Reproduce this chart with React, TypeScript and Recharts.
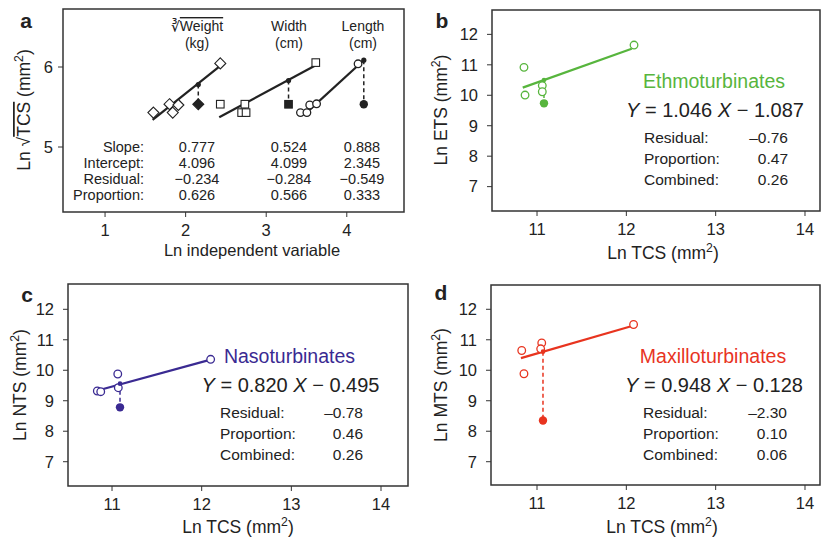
import React from "react";
import { ScatterChart, Scatter, XAxis, YAxis, ReferenceArea } from "recharts";

const FONT = "'Liberation Sans', Arial, Helvetica, sans-serif";
const INK = "#222";
const BOX = "#333";
const GREEN = "#57b53d";
const PURPLE = "#3a2a92";
const RED = "#e8341f";

// panel a: ln independent variable vs ln sqrt(TCS)
const weightX = [1.6, 1.8, 1.84, 1.91, 2.43];
const weightY = [5.43, 5.535, 5.43, 5.525, 6.045];
const widthX = [2.43, 2.735, 2.695, 2.75, 3.615];
const widthY = [5.535, 5.535, 5.43, 5.43, 6.055];
const lengthX = [3.425, 3.505, 3.54, 3.625, 4.14];
const lengthY = [5.43, 5.43, 5.525, 5.54, 6.04];
const weightFitX = [1.59, 2.46];
const weightFitY = [5.34, 6.04];
const widthFitX = [2.417, 3.603];
const widthFitY = [5.371, 6.016];
const lengthFitX = [3.49, 4.21];
const lengthFitY = [5.42, 6.085];
// the odd species: observed (filled) and predicted (on the line)
const oddAX = [2.157, 3.277, 4.211];
const oddAY = [5.534, 5.534, 5.534];
const predAY = [5.78, 5.83, 6.085];

const statNames = ["Slope:", "Intercept:", "Residual:", "Proportion:"];
const weightStats = ["0.777", "4.096", "\u22120.234", "0.626"];
const widthStats = ["0.524", "4.099", "\u22120.284", "0.566"];
const lengthStats = ["0.888", "2.345", "\u22120.549", "0.333"];

// panels b-d: ln TCS vs ln turbinate surface
const etsX = [10.854, 10.866, 11.059, 11.059, 12.086];
const etsY = [10.917, 10.008, 10.32, 10.116, 11.649];
const etsFitX = [10.84, 12.06];
const etsFitY = [10.25, 11.53];
const etsOdd = { x: 11.078, y: 9.735, fit: 10.5 };

const ntsX = [10.836, 10.874, 11.064, 11.07, 12.1];
const ntsY = [9.319, 9.296, 9.877, 9.427, 10.359];
const ntsFitX = [10.82, 12.09];
const ntsFitY = [9.32, 10.34];
const ntsOdd = { x: 11.089, y: 8.784, fit: 9.56 };

const mtsX = [10.829, 10.854, 11.053, 11.041, 12.081];
const mtsY = [10.648, 9.886, 10.894, 10.704, 11.501];
const mtsFitX = [10.82, 12.064];
const mtsFitY = [10.4, 11.45];
const mtsOdd = { x: 11.067, y: 8.35, fit: 10.61 };

const statLabels = ["Residual:", "Proportion:", "Combined:"];
const etsStats = ["\u20130.76", "0.47", "0.26"];
const ntsStats = ["\u20130.78", "0.46", "0.26"];
const mtsStats = ["\u20132.30", "0.10", "0.06"];

const aXTicks = [1, 2, 3, 4];
const aYTicks = [5, 6];
const tcsTicks = [11, 12, 13, 14];
const turbTicks = [7, 8, 9, 10, 11, 12];

const zip = (xs: number[], ys: number[]) => xs.map((x, i) => ({ x, y: ys[i] }));

const none = () => <g />;
const openCircle = (c: string, r = 3.8) => (p: any) => (
  <circle cx={p.cx} cy={p.cy} r={r} fill="#fff" stroke={c} strokeWidth={1.3} />
);
const dot = (c: string, r = 4.2) => (p: any) => <circle cx={p.cx} cy={p.cy} r={r} fill={c} />;
const diamond = (fill: string) => (p: any) => (
  <polygon
    points={`${p.cx},${p.cy - 5.5} ${p.cx + 5.5},${p.cy} ${p.cx},${p.cy + 5.5} ${p.cx - 5.5},${p.cy}`}
    fill={fill}
    stroke={INK}
    strokeWidth={1.1}
  />
);
const square = (fill: string) => (p: any) => (
  <rect x={p.cx - 3.8} y={p.cy - 3.8} width={7.6} height={7.6} fill={fill} stroke={INK} strokeWidth={1.1} />
);

const tickStyle = { fill: INK, fontSize: 16.5, fontFamily: FONT };

const Panel = ({ left, top, width, height, margin, xDomain, yDomain, xTicks, yTicks, yGap, children }: any) => (
  <div style={{ position: "absolute", left, top }}>
    <ScatterChart width={width} height={height} margin={margin}>
      <XAxis
        type="number"
        dataKey="x"
        domain={xDomain}
        ticks={xTicks}
        allowDataOverflow
        axisLine={false}
        tickLine={{ stroke: BOX }}
        tickSize={5}
        tickMargin={7}
        height={30}
        tick={tickStyle}
      />
      <YAxis
        type="number"
        dataKey="y"
        domain={yDomain}
        ticks={yTicks}
        allowDataOverflow
        axisLine={false}
        tickLine={{ stroke: BOX }}
        tickSize={5}
        tickMargin={yGap}
        width={40}
        tick={tickStyle}
      />
      <ReferenceArea
        x1={xDomain[0]}
        x2={xDomain[1]}
        y1={yDomain[0]}
        y2={yDomain[1]}
        fill="none"
        stroke={BOX}
        strokeWidth={1.5}
        ifOverflow="visible"
      />
      {children}
    </ScatterChart>
  </div>
);

const TurbSeries = (xs: number[], ys: number[], fx: number[], fy: number[], odd: any, c: string) => [
  <Scatter
    key="res"
    data={[{ x: odd.x, y: odd.fit }, { x: odd.x, y: odd.y }]}
    line={{ stroke: c, strokeWidth: 1.5, strokeDasharray: "4 3" }}
    shape={none}
    isAnimationActive={false}
  />,
  <Scatter key="fit" data={zip(fx, fy)} line={{ stroke: c, strokeWidth: 2.2 }} shape={none} isAnimationActive={false} />,
  <Scatter key="pts" data={zip(xs, ys)} shape={openCircle(c)} isAnimationActive={false} />,
  <Scatter key="pred" data={[{ x: odd.x, y: odd.fit }]} shape={dot(c, 2.3)} isAnimationActive={false} />,
  <Scatter key="odd" data={[{ x: odd.x, y: odd.y }]} shape={dot(c)} isAnimationActive={false} />,
];

const Mm2 = ({ size }: { size: number }) => (
  <>
    (mm<tspan dy={-size * 0.42} fontSize={size * 0.7}>2</tspan>
    <tspan dy={size * 0.42}>)</tspan>
  </>
);

const StatsBlock = ({ x, right, y, color, name, eq, values }: any) => (
  <g fill={INK} fontFamily={FONT}>
    <text x={(x + right) / 2 - 2} y={y} fill={color} fontSize={19.5} textAnchor="middle">
      {name}
    </text>
    <text x={(x + right) / 2 - 1} y={y + 29} fontSize={20} textAnchor="middle">
      <tspan fontStyle="italic">Y</tspan> = {eq[0]} <tspan fontStyle="italic">X</tspan> {"\u2212  "}
      {eq[1]}
    </text>
    {statLabels.map((s, i) => (
      <text key={s} x={x} y={y + 55 + i * 21} fontSize={15.5}>
        {s}
      </text>
    ))}
    {values.map((v: string, i: number) => (
      <text key={i} x={right} y={y + 55 + i * 21} fontSize={15.5} textAnchor="end">
        {v}
      </text>
    ))}
  </g>
);

const App = () => {
  return (
    <div style={{ position: "absolute", left: 0, top: 0, width: 821, height: 538, background: "#fff" }}>
      <Panel
        left={0}
        top={0}
        width={420}
        height={270}
        margin={{ top: 9, right: 16, bottom: 28, left: 23 }}
        xDomain={[0.478, 4.71]}
        yDomain={[4.1875, 6.725]}
        xTicks={aXTicks}
        yTicks={aYTicks}
        yGap={5}
      >
        {zip(oddAX, predAY).map((p, i) => (
          <Scatter
            key={"r" + i}
            data={[p, { x: oddAX[i], y: oddAY[i] }]}
            line={{ stroke: INK, strokeWidth: 1.5, strokeDasharray: "4 3" }}
            shape={none}
            isAnimationActive={false}
          />
        ))}
        <Scatter data={zip(weightFitX, weightFitY)} line={{ stroke: INK, strokeWidth: 2.2 }} shape={none} isAnimationActive={false} />
        <Scatter data={zip(widthFitX, widthFitY)} line={{ stroke: INK, strokeWidth: 2.2 }} shape={none} isAnimationActive={false} />
        <Scatter data={zip(lengthFitX, lengthFitY)} line={{ stroke: INK, strokeWidth: 2.2 }} shape={none} isAnimationActive={false} />
        <Scatter data={zip(weightX, weightY)} shape={diamond("#fff")} isAnimationActive={false} />
        <Scatter data={zip(widthX, widthY)} shape={square("#fff")} isAnimationActive={false} />
        <Scatter data={zip(lengthX, lengthY)} shape={openCircle(INK)} isAnimationActive={false} />
        <Scatter data={zip(oddAX, predAY)} shape={dot(INK, 2.6)} isAnimationActive={false} />
        <Scatter data={[{ x: oddAX[0], y: oddAY[0] }]} shape={diamond(INK)} isAnimationActive={false} />
        <Scatter data={[{ x: oddAX[1], y: oddAY[1] }]} shape={square(INK)} isAnimationActive={false} />
        <Scatter data={[{ x: oddAX[2], y: oddAY[2] }]} shape={dot(INK)} isAnimationActive={false} />
      </Panel>

      <Panel
        left={420}
        top={0}
        width={401}
        height={270}
        margin={{ top: 10, right: 1, bottom: 29, left: 32 }}
        xDomain={[10.496, 14.168]}
        yDomain={[6.2, 12.8]}
        xTicks={tcsTicks}
        yTicks={turbTicks}
        yGap={9}
      >
        {TurbSeries(etsX, etsY, etsFitX, etsFitY, etsOdd, GREEN)}
      </Panel>

      <Panel
        left={0}
        top={270}
        width={420}
        height={268}
        margin={{ top: 14, right: 12, bottom: 22, left: 28 }}
        xDomain={[10.509, 14.301]}
        yDomain={[6.203, 12.83]}
        xTicks={tcsTicks}
        yTicks={turbTicks}
        yGap={9}
      >
        {TurbSeries(ntsX, ntsY, ntsFitX, ntsFitY, ntsOdd, PURPLE)}
      </Panel>

      <Panel
        left={420}
        top={270}
        width={401}
        height={268}
        margin={{ top: 15, right: 1, bottom: 23, left: 31 }}
        xDomain={[10.485, 14.168]}
        yDomain={[6.236, 12.797]}
        xTicks={tcsTicks}
        yTicks={turbTicks}
        yGap={9}
      >
        {TurbSeries(mtsX, mtsY, mtsFitX, mtsFitY, mtsOdd, RED)}
      </Panel>

      <svg
        width={821}
        height={538}
        style={{ position: "absolute", left: 0, top: 0, pointerEvents: "none" }}
        fontFamily={FONT}
        fill={INK}
      >
        {/* panel letters */}
        <g fontSize={21} fontWeight="bold" textAnchor="middle">
          <text x={26} y={28}>a</text>
          <text x={442} y={28}>b</text>
          <text x={27} y={302}>c</text>
          <text x={441} y={300}>d</text>
        </g>

        {/* panel a headers and table */}
        <g fontSize={14} textAnchor="middle">
          <text x={197} y={31}>
            {"\u221B"}
            <tspan textDecoration="overline">Weight</tspan>
          </text>
          <text x={197} y={47.5}>(kg)</text>
          <text x={289} y={31}>Width</text>
          <text x={289} y={47.5}>(cm)</text>
          <text x={363} y={31}>Length</text>
          <text x={363} y={47.5}>(cm)</text>
        </g>
        <g fontSize={14.5}>
          {statNames.map((s, i) => (
            <text key={s} x={144} y={152 + i * 16} textAnchor="end">
              {s}
            </text>
          ))}
          {[weightStats, widthStats, lengthStats].map((col, j) =>
            col.map((v, i) => (
              <text key={j + "-" + i} x={[197, 289, 362][j]} y={152 + i * 16} textAnchor="middle">
                {v}
              </text>
            ))
          )}
        </g>
        <text x={252} y={256} fontSize={16.5} textAnchor="middle">
          Ln independent variable
        </text>
        <text transform="translate(30,110) rotate(-90)" fontSize={17.5} textAnchor="middle">
          Ln {"\u221A"}
          <tspan textDecoration="overline">TCS</tspan> <Mm2 size={17.5} />
        </text>

        {/* axis titles b-d */}
        <g fontSize={17.5} textAnchor="middle">
          <text x={663} y={259}>
            Ln TCS <Mm2 size={17.5} />
          </text>
          <text x={238} y={533}>
            Ln TCS <Mm2 size={17.5} />
          </text>
          <text x={662} y={533}>
            Ln TCS <Mm2 size={17.5} />
          </text>
          <text transform="translate(447,110) rotate(-90)">
            Ln ETS <Mm2 size={17.5} />
          </text>
          <text transform="translate(26,385) rotate(-90)">
            Ln NTS <Mm2 size={17.5} />
          </text>
          <text transform="translate(447,385) rotate(-90)">
            Ln MTS <Mm2 size={17.5} />
          </text>
        </g>

        <StatsBlock x={644} right={788} y={88} color={GREEN} name="Ethmoturbinates" eq={["1.046", "1.087"]} values={etsStats} />
        <StatsBlock x={220} right={363} y={363} color={PURPLE} name="Nasoturbinates" eq={["0.820", "0.495"]} values={ntsStats} />
        <StatsBlock x={643} right={787} y={363} color={RED} name="Maxilloturbinates" eq={["0.948", "0.128"]} values={mtsStats} />
      </svg>
    </div>
  );
};

export default App;
